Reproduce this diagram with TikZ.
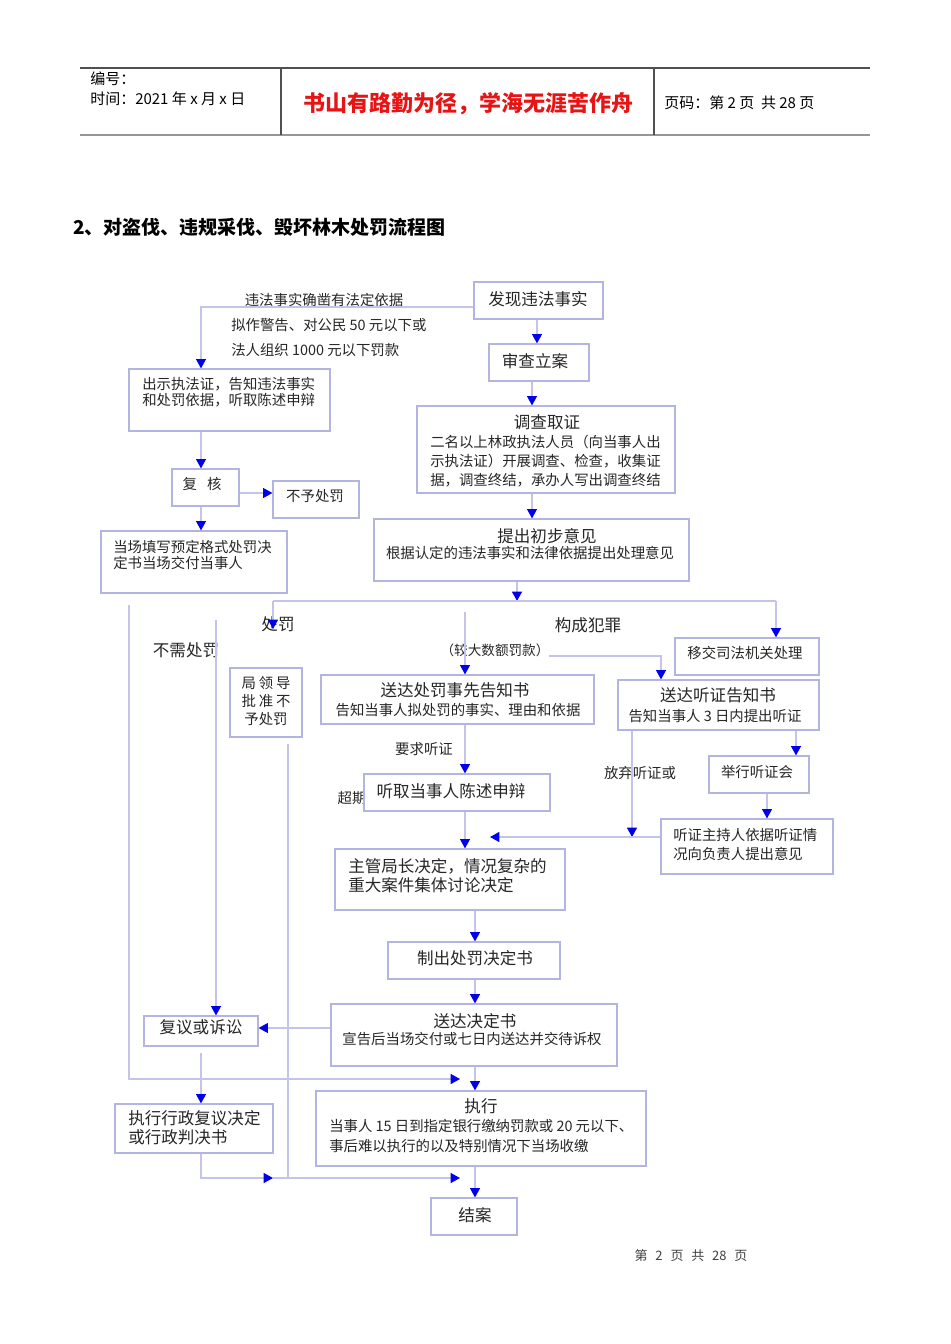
\documentclass[tikz,border=0pt]{standalone}
\usepackage{fontspec}
\setmainfont{Noto Sans CJK SC}
\usetikzlibrary{arrows.meta,fit}
\definecolor{lav}{RGB}{180,180,226}
\definecolor{lnc}{RGB}{196,196,234}
\definecolor{arb}{RGB}{0,0,235}
\definecolor{hdr}{RGB}{80,80,80}
\definecolor{hdr2}{RGB}{150,150,150}
\definecolor{slogan}{RGB}{230,20,20}
\tikzset{
  box/.style={draw=lav, line width=0.9pt, fill=white, inner sep=0pt, rectangle},
  ln/.style={draw=lnc, line width=0.8pt},
  arr/.style={ln, -{Triangle[length=7pt,width=7.5pt,color=arb]}},
  big/.style={font=\fontsize{12.4}{14.25}\selectfont, inner sep=0pt, text=black!85},
  sm/.style={font=\fontsize{10.8}{12}\selectfont, inner sep=0pt, text=black!85},
  hd/.style={font=\fontsize{11.25}{15}\selectfont, inner sep=0pt},
}
\begin{document}
\begin{tikzpicture}[x=0.75pt,y=-0.75pt]
\useasboundingbox (0,0) rectangle (950,1344);
% header
\draw[hdr, line width=0.9pt] (80,68) -- (870,68);
\draw[hdr2, line width=1.6pt] (80,135) -- (870,135);
\draw[hdr, line width=0.9pt] (281,68) -- (281,135) (654,68) -- (654,135);
\node[hd, anchor=west] (h1) at (90,79) {编号：};
\node[hd, anchor=west] (h2) at (90,99) {时间：2021 年 x 月 x 日};
\node[font=\fontsize{16.5}{18}\selectfont\bfseries, text=slogan, inner sep=0pt] (h3) at (468,104) {书山有路勤为径，学海无涯苦作舟};
\node[hd, anchor=west] (h4) at (664,103) {页码：第 2 页\ \ 共 28 页};
% title
\node[font=\fontsize{14.25}{16}\selectfont\bfseries, anchor=west, inner sep=0pt] (title) at (73,227) {2、对盗伐、违规采伐、毁坏林木处罚流程图};
% footer
\node[font=\fontsize{9.75}{12}\selectfont, text=black!75, inner sep=0pt] (foot) at (691,1256) {第\hspace{0.6em}2\hspace{0.6em}页\hspace{0.6em}共\hspace{0.6em}28\hspace{0.6em}页};

% labels drawn before boxes
\node[sm] (l9) at (352,798) {超期};

% boxes
\node[box, fit={(474,282) (603,319)}] (b1) {};
\node[box, fit={(489,344) (589,381)}] (b2) {};
\node[box, fit={(417,406) (675,493)}] (b3) {};
\node[box, fit={(374,519) (689,581)}] (b4) {};
\node[box, fit={(129,369) (330,431)}] (b5) {};
\node[box, fit={(172,469) (239,506)}] (b6) {};
\node[box, fit={(273,481) (359,518)}] (b7) {};
\node[box, fit={(101,531) (287,593)}] (b8) {};
\node[box, fit={(230,668) (302,737)}] (b9) {};
\node[box, fit={(321,675) (594,724)}] (b10) {};
\node[box, fit={(675,638) (819,675)}] (b11) {};
\node[box, fit={(618,680) (819,730)}] (b12) {};
\node[box, fit={(709,756) (809,793)}] (b13) {};
\node[box, fit={(364,774) (550,811)}] (b14) {};
\node[box, fit={(661,819) (833,874)}] (b15) {};
\node[box, fit={(335,849) (565,910)}] (b16) {};
\node[box, fit={(388,942) (560,979)}] (b17) {};
\node[box, fit={(144,1016) (258,1046)}] (b18) {};
\node[box, fit={(331,1004) (617,1066)}] (b19) {};
\node[box, fit={(316,1091) (646,1166)}] (b20) {};
\node[box, fit={(115,1104) (273,1153)}] (b21) {};
\node[box, fit={(431,1198) (517,1235)}] (b22) {};

% box texts
\node[big] (t1) at (538,299) {发现违法事实};
\node[big] (t2) at (535,361) {审查立案};
\node[big] (t3) at (547,422) {调查取证};
\node[sm, anchor=west, align=left, font=\fontsize{10.8}{14.25}\selectfont] (t3b) at (430,461) {二名以上林政执法人员（向当事人出\\示执法证）开展调查、检查，收集证\\据，调查终结，承办人写出调查终结};
\node[big] (t4) at (547,536) {提出初步意见};
\node[sm] (t4b) at (530,553) {根据认定的违法事实和法律依据提出处理意见};
\node[sm, anchor=west, align=left] (t5) at (142,392) {出示执法证，告知违法事实\\和处罚依据，听取陈述申辩};
\node[sm] (t6) at (202,484) {复\hspace{0.7em}核};
\node[sm] (t7) at (315,496) {不予处罚};
\node[sm, anchor=west, align=left] (t8) at (113,555) {当场填写预定格式处罚决\\定书当场交付当事人};
\node[sm, align=center, font=\fontsize{10.8}{13.5}\selectfont] (t9) at (266,701) {局\hspace{0.2em}领\hspace{0.2em}导\\批\hspace{0.2em}准\hspace{0.2em}不\\予处罚};
\node[big] (t10) at (455,690) {送达处罚事先告知书};
\node[sm] (t10b) at (458,710) {告知当事人拟处罚的事实、理由和依据};
\node[sm] (t11) at (745,653) {移交司法机关处理};
\node[big] (t12) at (718,695) {送达听证告知书};
\node[sm] (t12b) at (715,716) {告知当事人 3 日内提出听证};
\node[sm] (t13) at (757,772) {举行听证会};
\node[big] (t14) at (451,791) {听取当事人陈述申辩};
\node[sm, anchor=west, align=left, font=\fontsize{10.8}{14.25}\selectfont] (t15) at (673,845) {听证主持人依据听证情\\况向负责人提出意见};
\node[big, anchor=west, align=left] (t16) at (348,876) {主管局长决定，情况复杂的\\重大案件集体讨论决定};
\node[big] (t17) at (475,958) {制出处罚决定书};
\node[big] (t18) at (201,1027) {复议或诉讼};
\node[big] (t19) at (475,1021) {送达决定书};
\node[sm] (t19b) at (472,1039) {宣告后当场交付或七日内送达并交待诉权};
\node[big] (t20) at (481,1106) {执行};
\node[sm, anchor=west, align=left, font=\fontsize{10.8}{15}\selectfont] (t20b) at (329,1136) {当事人 15 日到指定银行缴纳罚款或 20 元以下、\\事后难以执行的以及特别情况下当场收缴};
\node[big, anchor=west, align=left] (t21) at (128,1128) {执行行政复议决定\\或行政判决书};
\node[big] (t22) at (475,1215) {结案};

% free labels
\node[sm] (l1) at (324,300) {违法事实确凿有法定依据};
\node[sm, anchor=west] (l2) at (231,325) {拟作警告、对公民 50 元以下或};
\node[sm, anchor=west] (l3) at (231,350) {法人组织 1000 元以下罚款};
\node[big] (l4) at (278,624) {处罚};
\node[big] (l5) at (186,650) {不需处罚};
\node[big] (l6) at (588,625) {构成犯罪};
\node[sm, font=\fontsize{10.2}{12}\selectfont] (l7) at (495,650) {（较大数额罚款）};
\node[sm] (l8) at (424,749) {要求听证};
\node[sm] (l10) at (640,773) {放弃听证或};

% coordinates for free ends
\coordinate (j1) at (517,601);
\coordinate (jl) at (273,601);
\coordinate (jr) at (776,601);
\coordinate (jp) at (273,629);
\coordinate (c1) at (129,605);
\coordinate (c2) at (460,1079);
\coordinate (c3) at (216,620);
\coordinate (c4) at (288,744);
\coordinate (c4b) at (288,1178);
\coordinate (c5) at (465,612);
\coordinate (c6) at (549,656);
\coordinate (c7) at (632,837);
\coordinate (c8) at (490,837);
\coordinate (c9) at (201,1053);
\coordinate (c10) at (273,1178);
\coordinate (c11) at (460,1178);

% connectors
\draw[arr] (b1.west |- 0,307) -| (b5.north -| 201,0);
\draw[arr] (b1.south -| 537,0) -- (b2.north -| 537,0);
\draw[arr] (b2.south -| 532,0) -- (b3.north -| 532,0);
\draw[arr] (b3.south -| 532,0) -- (b4.north -| 532,0);
\draw[arr] (b4.south -| 517,0) -- (j1);
\draw[ln] (jl) -- (jr);
\draw[arr] (jl) -- (jp);
\draw[arr] (jr) -- (b11.north -| 776,0);
\draw[arr] (b5.south -| 201,0) -- (b6.north -| 201,0);
\draw[arr] (b6.east |- 0,493) -- (b7.west |- 0,493);
\draw[arr] (b6.south -| 201,0) -- (b8.north -| 201,0);
\draw[arr] (c1) |- (c2);
\draw[arr] (c3) -- (b18.north -| 216,0);
\draw[ln] (c4) -- (c4b);
\draw[arr] (c5) -- (b10.north -| 465,0);
\draw[arr] (c6) -| (b12.north -| 661,0);
\draw[arr] (b10.south -| 465,0) -- (b14.north -| 465,0);
\draw[arr] (b14.south -| 465,0) -- (b16.north -| 465,0);
\draw[arr] (b12.south -| 796,0) -- (b13.north -| 796,0);
\draw[arr] (b12.south -| 632,0) -- (c7);
\draw[arr] (b13.south -| 767,0) -- (b15.north -| 767,0);
\draw[arr] (b15.west |- 0,837) -- (c8);
\draw[arr] (b16.south -| 475,0) -- (b17.north -| 475,0);
\draw[arr] (b17.south -| 475,0) -- (b19.north -| 475,0);
\draw[arr] (b19.west |- 0,1028) -- (b18.east |- 0,1028);
\draw[arr] (b19.south -| 475,0) -- (b20.north -| 475,0);
\draw[arr] (c9) -- (b21.north -| 201,0);
\draw[arr] (b21.south -| 201,0) |- (c10);
\draw[arr] (c10) -- (c11);
\draw[arr] (b20.south -| 475,0) -- (b22.north -| 475,0);
\end{tikzpicture}
\end{document}
